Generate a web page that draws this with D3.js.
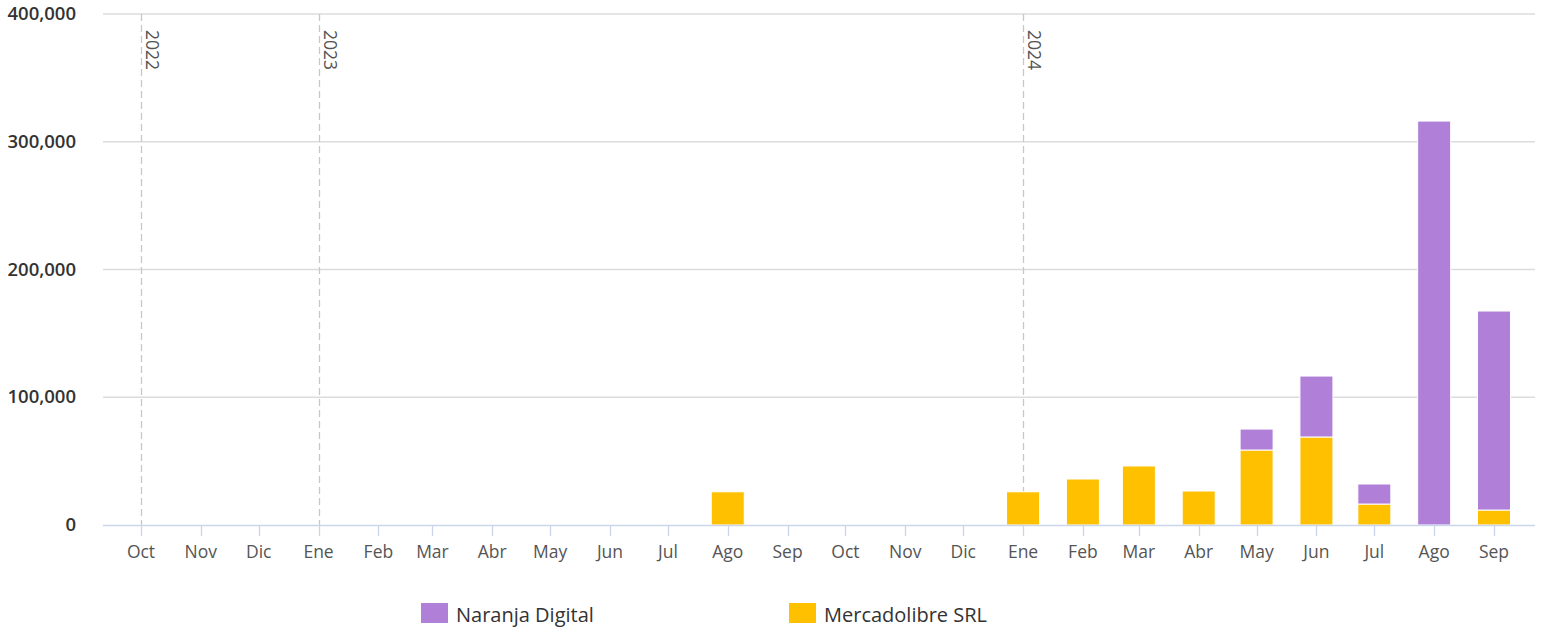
<!DOCTYPE html>
<html>
<head>
<meta charset="utf-8">
<script src="https://cdn.jsdelivr.net/npm/d3@7"></script>
<style>
  body { margin: 0; background: #fff; font-family: "Open Sans", sans-serif; }
  svg { display: block; }
</style>
</head>
<body>
<svg id="chart" width="1542" height="632"></svg>
<script>
const months = ['2022-10','2022-11','2022-12','2023-01','2023-02','2023-03','2023-04','2023-05','2023-06','2023-07','2023-08','2023-09',
  '2023-10','2023-11','2023-12','2024-01','2024-02','2024-03','2024-04','2024-05','2024-06','2024-07','2024-08','2024-09'];
const monthLabels = ['Ene','Feb','Mar','Abr','May','Jun','Jul','Ago','Sep','Oct','Nov','Dic'];
const mercadolibre = [0,0,0,0,0,0,0,0,0,0,26000,0, 0,0,0,26000,36000,46200,26600,58700,68900,16400,0,11700];
const naranja =      [0,0,0,0,0,0,0,0,0,0,0,0,     0,0,0,0,0,0,0,16400,47700,15700,316200,155800];
const yearMarks = ['2022-10','2023-01','2024-01'];
const yTicks = [0, 100000, 200000, 300000, 400000];

const seriesInfo = [
  { key: 'mercadolibre', name: 'Mercadolibre SRL', color: '#ffc000', values: mercadolibre },
  { key: 'naranja', name: 'Naranja Digital', color: '#b07fd8', values: naranja }
];

const svg = d3.select('#chart');
const parse = d3.timeParse('%Y-%m');
const dates = months.map(parse);

const plotLeft = 103, plotRight = 1535, plotTop = 14, plotBottom = 525;

// time scale anchored so first and last months land where the reference puts them
const x0 = 141, x1 = 1494;
const t0 = dates[0], t1 = dates[dates.length - 1];
const pxPerMs = (x1 - x0) / (t1 - t0);
const x = d3.scaleTime()
  .domain([new Date(+t0 - (x0 - plotLeft) / pxPerMs), new Date(+t1 + (plotRight - x1) / pxPerMs)])
  .range([plotLeft, plotRight]);

const y = d3.scaleLinear().domain([0, 400000]).range([plotBottom, plotTop]);

// grid
svg.append('g')
  .selectAll('line')
  .data(yTicks.filter(d => d > 0))
  .join('line')
  .attr('x1', plotLeft).attr('x2', plotRight)
  .attr('y1', d => y(d)).attr('y2', d => y(d))
  .attr('stroke', '#dcdcdc').attr('stroke-width', 1.3);

// y labels
svg.append('g')
  .selectAll('text')
  .data(yTicks)
  .join('text')
  .attr('x', 76)
  .attr('y', d => y(d) + 6)
  .attr('text-anchor', 'end')
  .attr('font-size', 18.5)
  .attr('font-weight', 600)
  .attr('fill', '#333')
  .text(d => d3.format(',')(d));

// year plot lines
const yearG = svg.append('g');
yearMarks.forEach(m => {
  const xx = Math.round(x(parse(m))) + 0.5;
  yearG.append('line')
    .attr('x1', xx).attr('x2', xx)
    .attr('y1', plotTop).attr('y2', plotBottom)
    .attr('stroke', '#c8c8c8').attr('stroke-width', 1.3)
    .attr('stroke-dasharray', '7,4');
  yearG.append('text')
    .attr('transform', `translate(${xx + 4},${plotTop + 16}) rotate(90)`)
    .attr('font-size', 17.5)
    .attr('fill', '#555')
    .text(m.slice(0, 4));
});

// stacked bars
const rows = months.map((m, i) => ({ date: dates[i], mercadolibre: mercadolibre[i], naranja: naranja[i] }));
const stack = d3.stack().keys(seriesInfo.map(s => s.key))(rows);
const barW = 33;

svg.append('g')
  .selectAll('g')
  .data(stack)
  .join('g')
  .attr('fill', d => seriesInfo.find(s => s.key === d.key).color)
  .selectAll('rect')
  .data(d => d.filter(p => p[1] - p[0] > 0))
  .join('rect')
  .attr('x', d => x(d.data.date) - barW / 2)
  .attr('y', d => y(d[1]))
  .attr('width', barW)
  .attr('height', d => y(d[0]) - y(d[1]))
  .attr('stroke', '#fff')
  .attr('stroke-width', 1);

// x axis
const axis = svg.append('g');
axis.append('line')
  .attr('x1', plotLeft).attr('x2', plotRight)
  .attr('y1', plotBottom + 0.5).attr('y2', plotBottom + 0.5)
  .attr('stroke', '#ccd6eb').attr('stroke-width', 1.5);
axis.selectAll('.tick')
  .data(dates)
  .join('line')
  .attr('x1', d => Math.round(x(d)) + 0.5).attr('x2', d => Math.round(x(d)) + 0.5)
  .attr('y1', plotBottom).attr('y2', plotBottom + 11)
  .attr('stroke', '#ccd6eb').attr('stroke-width', 1.3);
axis.selectAll('text')
  .data(dates)
  .join('text')
  .attr('x', d => x(d))
  .attr('y', plotBottom + 33)
  .attr('text-anchor', 'middle')
  .attr('font-size', 17.5)
  .attr('fill', '#555')
  .text(d => monthLabels[d.getMonth()]);

// legend
const legendItems = [seriesInfo[1], seriesInfo[0]];
const legendX = [421, 789];
const legend = svg.append('g');
legendItems.forEach((s, i) => {
  legend.append('rect')
    .attr('x', legendX[i]).attr('y', 603)
    .attr('width', 27).attr('height', 20)
    .attr('fill', s.color);
  legend.append('text')
    .attr('x', legendX[i] + 35).attr('y', 622)
    .attr('font-size', 20)
    .attr('fill', '#333')
    .text(s.name);
});
</script>
</body>
</html>
